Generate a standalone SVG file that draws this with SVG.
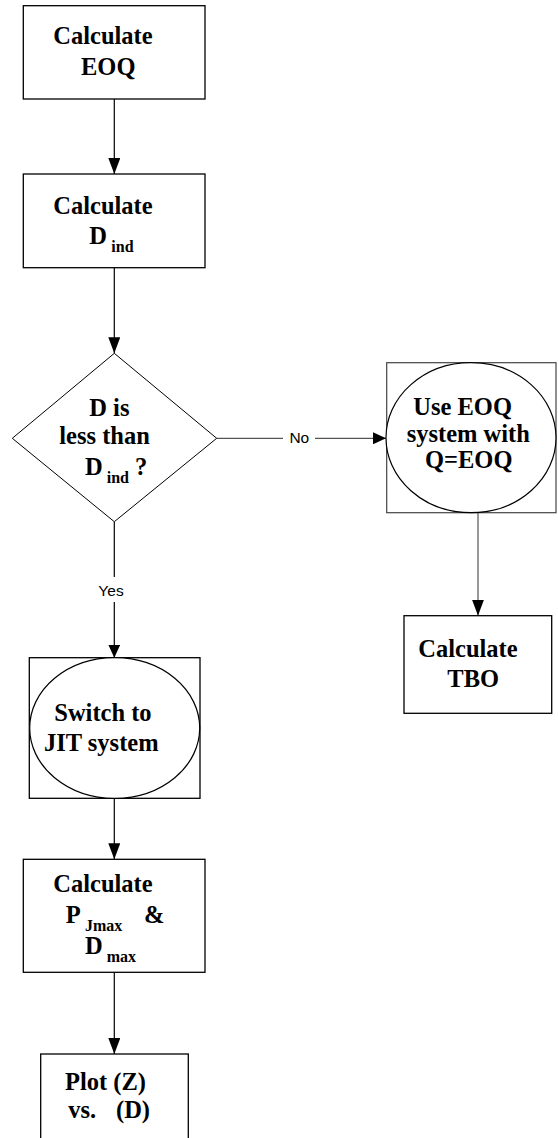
<svg xmlns="http://www.w3.org/2000/svg" width="558" height="1138" viewBox="0 0 558 1138">
<style>
.box{fill:#fff;stroke:#000;stroke-width:1.3}
.gbox{fill:#fff;stroke:#444;stroke-width:1.2}
.ell{fill:#fff;stroke:#000;stroke-width:1.2}
.dia{fill:#fff;stroke:#000;stroke-width:1}
.t{font-family:'Liberation Serif','Times New Roman','DejaVu Serif',serif;font-weight:bold;font-size:24.5px;fill:#000}
.s{font-size:16px}
.lbl{font-family:'Liberation Sans',Arial,sans-serif;font-size:15.5px;fill:#000}
.c{fill:none;stroke:#000;stroke-width:1.2}
.g{fill:none;stroke:#555;stroke-width:1.2}
</style>
<defs>
<marker id="ah" markerUnits="userSpaceOnUse" markerWidth="16" markerHeight="12" refX="16" refY="6" orient="auto">
<path d="M0,0 L16,6 L0,12 z" fill="#000"/>
</marker>
<marker id="ahs" markerUnits="userSpaceOnUse" markerWidth="13" markerHeight="12" refX="13" refY="6" orient="auto">
<path d="M0,0 L13,6 L0,12 z" fill="#000"/>
</marker>
</defs>
<g id="connectors">
<line class="c" x1="114.3" y1="99" x2="114.3" y2="174" marker-end="url(#ah)"/>
<line class="c" x1="114.3" y1="267.7" x2="114.3" y2="353.3" marker-end="url(#ah)"/>
<line class="c" x1="114.3" y1="521.7" x2="114.3" y2="577"/>
<line class="c" x1="114.3" y1="602" x2="114.3" y2="657.7" marker-end="url(#ahs)"/>
<line class="g" x1="216.7" y1="438.3" x2="283" y2="438.3"/>
<line class="g" x1="315" y1="438.3" x2="386" y2="438.3" marker-end="url(#ahs)"/>
<line class="g" x1="478" y1="512.7" x2="478" y2="615.7" marker-end="url(#ah)"/>
<line class="c" x1="114.3" y1="798.3" x2="114.3" y2="859.3" marker-end="url(#ah)"/>
<line class="c" x1="114.3" y1="972.3" x2="114.3" y2="1054" marker-end="url(#ah)"/>
<text class="lbl" x="299.3" y="443" text-anchor="middle">No</text>
<text class="lbl" x="111" y="595.5" text-anchor="middle">Yes</text>
</g>
<g font-family="Liberation Serif, Times New Roman, serif" font-weight="bold">
<g id="calc-eoq">
<rect class="box" x="23.3" y="5.7" width="181.7" height="93.3"/>
<text class="t" x="53.3" y="44.3">Calculate</text>
<text class="t" x="81" y="75">EOQ</text>
</g>
<g id="calc-dind">
<rect class="box" x="23.3" y="174" width="181.7" height="93.7"/>
<text class="t" x="53.3" y="214">Calculate</text>
<text class="t" x="89.3" y="244">D</text>
<text class="t s" x="111.3" y="251.7">ind</text>
</g>
<g id="decision">
<polygon class="dia" points="114.3,353.3 216.7,438.3 114.3,521.7 12.3,438.3"/>
<text class="t" x="89.3" y="416">D is</text>
<text class="t" x="59.3" y="444.3">less than</text>
<text class="t" x="85" y="475">D</text>
<text class="t s" x="106.7" y="482.7">ind</text>
<text class="t" x="135" y="475">?</text>
</g>
<g id="use-eoq">
<rect class="gbox" x="386.7" y="362.7" width="169.3" height="150"/>
<ellipse class="ell" cx="471" cy="437.7" rx="85" ry="75"/>
<text class="t" x="413.3" y="415">Use EOQ</text>
<text class="t" x="406.7" y="441.7">system with</text>
<text class="t" x="425" y="468.3">Q=EOQ</text>
</g>
<g id="calc-tbo">
<rect class="box" x="404" y="615.7" width="147.7" height="97.6"/>
<text class="t" x="418.3" y="656.7">Calculate</text>
<text class="t" x="447.3" y="686.7">TBO</text>
</g>
<g id="switch-jit">
<rect class="box" x="29.3" y="657.7" width="170.7" height="140.6"/>
<ellipse class="ell" cx="114.7" cy="728" rx="85" ry="70.3"/>
<text class="t" x="54.3" y="720.7">Switch to</text>
<text class="t" x="44" y="750.7">JIT system</text>
</g>
<g id="calc-pjmax">
<rect class="box" x="23.3" y="859.3" width="181.7" height="113"/>
<text class="t" x="53.3" y="892.3">Calculate</text>
<text class="t" x="65.7" y="923.3">P</text>
<text class="t s" x="85" y="930.7">Jmax</text>
<text class="t" x="144" y="923.3">&amp;</text>
<text class="t" x="85" y="954">D</text>
<text class="t s" x="106.7" y="961.7">max</text>
</g>
<g id="plot">
<rect class="box" x="40.7" y="1054" width="147.6" height="100"/>
<text class="t" x="65" y="1090">Plot (Z)</text>
<text class="t" x="68.3" y="1118.3">vs.</text>
<text class="t" x="116" y="1118.3">(D)</text>
</g>
</g>
</svg>
